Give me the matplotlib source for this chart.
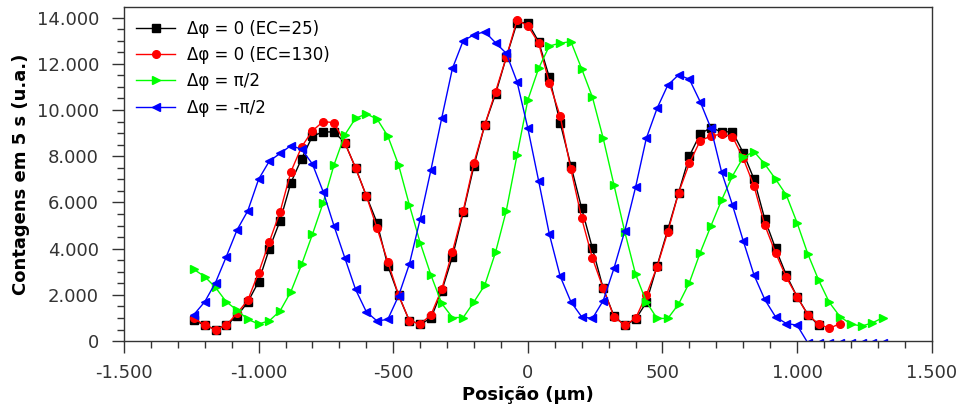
import numpy as np
import matplotlib.pyplot as plt
from matplotlib.ticker import FuncFormatter, MultipleLocator

# posições (µm), passo de 40
x_ec25 = np.arange(-1240, 1081, 40)
x_ec130 = np.arange(-1240, 1161, 40)
x_mais = np.arange(-1240, 1321, 40)
x_menos = np.arange(-1240, 1321, 40)

cont_ec25 = [900, 690, 500, 690, 1080, 1690, 2570, 4000, 5210, 6850,
             7900, 8870, 9050, 9050, 8590, 7500, 6290, 5120, 3260, 1980,
             880, 740, 980, 2160, 3650, 5570, 7590, 9350, 10690, 12280,
             13780, 13780, 12960, 11410, 9450, 7590, 5740, 4010, 2280, 1080,
             690, 940, 1670, 3250, 4830, 6420, 8010, 8960, 9240, 9050,
             9060, 8150, 7010, 5280, 4010, 2860, 1920, 1150, 690]

cont_ec130 = [980, 690, 500, 690, 1200, 1775, 2960, 4300, 5600, 7330,
              8410, 9100, 9500, 9450, 8590, 7500, 6290, 4880, 3430, 1990,
              880, 740, 1130, 2240, 3870, 5640, 7720, 9350, 10790, 12280,
              13900, 13640, 12900, 11170, 9740, 7430, 5310, 3580, 2280, 1050,
              690, 980, 1990, 3220, 4730, 6420, 7690, 8670, 8870, 8960,
              8850, 7910, 6710, 5020, 3820, 2760, 1920, 1130, 740, 550,
              760]

cont_mais = [3100, 2790, 2320, 1700, 1340, 940, 740, 880, 1310, 2140,
             3320, 4620, 5990, 7620, 8920, 9640, 9830, 9610, 8870, 7620,
             5890, 4260, 2860, 1630, 1020, 1020, 1700, 2420, 3840, 5640,
             8050, 10430, 11800, 12770, 12890, 12960, 11780, 10550, 8770, 6750,
             4730, 2900, 1700, 980, 980, 1600, 2530, 3820, 4980, 6110,
             7140, 7950, 8200, 7660, 7010, 6320, 5120, 3770, 2640, 1670,
             1050, 740, 650, 790, 1020]

cont_menos = [1150, 1700, 2530, 3650, 4810, 5640, 7000, 7790, 8120, 8460,
              8300, 7660, 6460, 4990, 3610, 2240, 1270, 870, 940, 1960,
              3330, 5270, 7400, 9640, 11800, 13000, 13250, 13390, 12910, 12450,
              11220, 9210, 6940, 4620, 2810, 1700, 1050, 980, 1750, 3150,
              4760, 6650, 8770, 10070, 11080, 11520, 11330, 10360, 9210, 7300,
              5890, 4340, 2860, 1800, 1050, 760, 690, -80, -80, -80,
              -80, -80, -80, -80, -80]

rotulos = ['Δφ = 0 (EC=25)', 'Δφ = 0 (EC=130)', 'Δφ = π/2', 'Δφ = -π/2']

fig = plt.figure(figsize=(9.61, 4.08), dpi=100)
ax = fig.add_axes([0.129, 0.164, 0.8405, 0.8185])

ax.plot(x_ec25, cont_ec25, color='black', marker='s', ms=5.5, lw=1.0, label=rotulos[0])
ax.plot(x_ec130, cont_ec130, color='red', marker='o', ms=5.5, lw=1.0, label=rotulos[1])
ax.plot(x_mais, cont_mais, color='#00ff00', marker='>', ms=6, lw=1.0, label=rotulos[2])
ax.plot(x_menos, cont_menos, color='blue', marker='<', ms=6, lw=1.0, label=rotulos[3])

ax.set_xlim(-1500, 1500)
ax.set_ylim(0, 14450)

milhar = FuncFormatter(lambda v, p: f"{int(round(v)):,}".replace(',', '.'))
ax.xaxis.set_major_formatter(milhar)
ax.yaxis.set_major_formatter(milhar)
ax.xaxis.set_major_locator(MultipleLocator(500))
ax.xaxis.set_minor_locator(MultipleLocator(100))
ax.yaxis.set_major_locator(MultipleLocator(2000))
ax.yaxis.set_minor_locator(MultipleLocator(500))

ax.tick_params(which='major', direction='out', length=8.5, width=1.0,
               labelsize=13, colors='#333333')
ax.tick_params(axis='x', which='major', pad=8)
ax.tick_params(axis='y', which='major', pad=9.5)
ax.tick_params(which='minor', direction='out', length=5, width=1.0, color='#333333')
for s in ax.spines.values():
    s.set_color('#333333')
    s.set_linewidth(1.0)

ax.set_xlabel('Posição (µm)', fontsize=13, fontweight='bold', labelpad=3)
ax.set_ylabel('Contagens em 5 s (u.a.)', fontsize=13, fontweight='bold', labelpad=5)

ax.legend(loc='upper left', frameon=False, fontsize=12, handlelength=2.3,
          handletextpad=0.75, labelspacing=0.5, borderaxespad=0.35)

fig.savefig('out.png', dpi=100)
